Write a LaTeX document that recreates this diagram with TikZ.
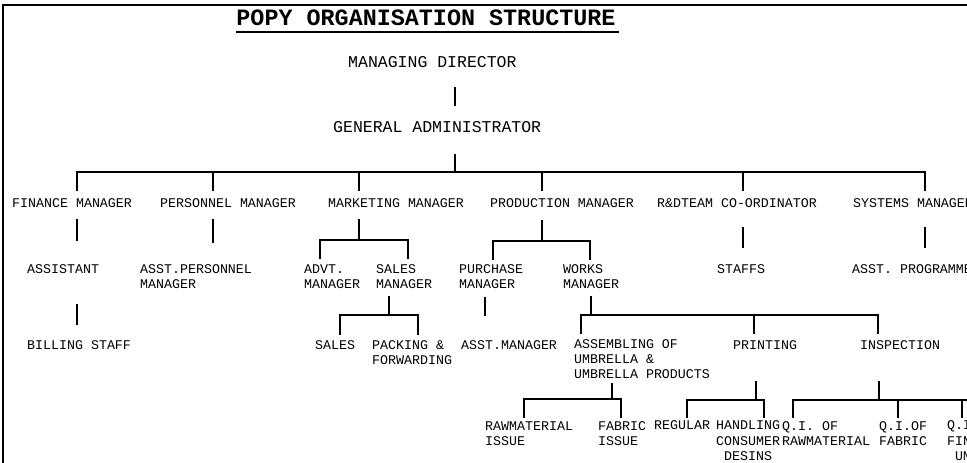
\documentclass[tikz,border=0pt]{standalone}
\usepackage{fontspec}
\newfontfamily\chartfont{Liberation Mono}
\newcommand{\unitfont}{\chartfont\fontsize{13.3}{15}\selectfont}
\newcommand{\headfont}{\chartfont\fontsize{16.5}{18}\selectfont}
\newcommand{\titlefont}{\chartfont\bfseries\fontsize{23.4}{26}\selectfont}

\begin{document}
\begin{tikzpicture}[x=1pt, y=-1pt,
    link/.style={line width=1.3pt, line cap=rect},
    unit/.style={font=\unitfont, inner sep=0pt, anchor=base west, align=left}]
  \useasboundingbox (0,0) rectangle (967,463);
  \clip (0,0) rectangle (967,463);

  % page frame (only top and left edges are seen)
  \draw[line width=1.2pt] (3,463) -- (3,5) -- (967,5);

  % 1. title
  \node[font=\titlefont, inner sep=0pt, anchor=base] (title) at (426,25.7) {POPY ORGANISATION STRUCTURE};
  \draw[line width=1.8pt] ([yshift=-6.3pt]title.base west) -- ([yshift=-6.3pt,xshift=3pt]title.base east);

  % 2. top of the chart
  \node[unit, font=\headfont] (md) at (348,67.5) {MANAGING DIRECTOR};
  \node[unit, font=\headfont] (ga) at (333,132.5) {GENERAL ADMINISTRATOR};

  % note: base of a multi-line node is its last line (+15 per extra line)
  % 3. level 1 (baseline 207.5)
  \node[unit] (fin) at (12,207.5)  {FINANCE MANAGER};
  \node[unit] (per) at (160,207.5) {PERSONNEL MANAGER};
  \node[unit] (mkt) at (328,207.5) {MARKETING MANAGER};
  \node[unit] (prd) at (490,207.5) {PRODUCTION MANAGER};
  \node[unit] (rnd) at (657,207.5) {R\&DTEAM CO-ORDINATOR};
  \node[unit] (sys) at (853,207.5) {SYSTEMS MANAGER};

  % 4. level 2 (baseline 273.5)
  \node[unit] (asst) at (27,273.5)  {ASSISTANT};
  \node[unit] (aper) at (140,288.5) {ASST.PERSONNEL\\MANAGER};
  \node[unit] (advt) at (304,288.5) {ADVT.\\MANAGER};
  \node[unit] (salm) at (376,288.5) {SALES\\MANAGER};
  \node[unit] (pur)  at (459,288.5) {PURCHASE\\MANAGER};
  \node[unit] (wrk)  at (563,288.5) {WORKS\\MANAGER};
  \node[unit] (stf)  at (717,273.5) {STAFFS};
  \node[unit] (prg)  at (852,273.5) {ASST. PROGRAMME};

  % 5. level 3 (baseline 349.5)
  \node[unit] (bill)  at (27,349.5)  {BILLING STAFF};
  \node[unit] (sales) at (315,349.5) {SALES};
  \node[unit] (pack)  at (372,364.5) {PACKING \&\\FORWARDING};
  \node[unit] (amgr)  at (461,349.5) {ASST.MANAGER};
  \node[unit] (asm)   at (574,378.5) {ASSEMBLING OF\\UMBRELLA \&\\UMBRELLA PRODUCTS};
  \node[unit] (prt)   at (733,349.5) {PRINTING};
  \node[unit] (ins)   at (860,349.5) {INSPECTION};

  % 6. level 4 (baseline 429.5)
  \node[unit] (raw) at (485,445) {RAWMATERIAL\\ISSUE};
  \node[unit] (fab) at (598,445) {FABRIC\\ISSUE};
  \node[unit] (reg) at (654,429.5) {REGULAR};
  \node[unit, font=\chartfont\fontsize{13.3}{15.5}\selectfont] (hnd) at (716,460.5) {HANDLING\\CONSUMER\\\hphantom{X}DESINS};
  \node[unit] (qia) at (782,445) {Q.I. OF\\RAWMATERIAL};
  \node[unit] (qib) at (879,445) {Q.I.OF\\FABRIC};
  \node[unit, font=\chartfont\fontsize{13.3}{15.5}\selectfont] (qic) at (947,460.5) {Q.I.\\FIN\\\hphantom{.}UMB};

  % 7. connectors
  % director -> administrator
  \coordinate (md-s) at (455,88);
  \coordinate (ga-n) at (455,105);
  \draw[link] (md-s) -- (ga-n);

  % administrator -> managers
  \coordinate (ga-s) at (455,155);
  \coordinate (ga-b) at (455,172);
  \draw[link] (ga-s) -- (ga-b);
  \foreach \n/\x in {fin/77, per/213, mkt/359, prd/542, rnd/743, sys/925}
    \coordinate (\n-t) at (\x,190);
  \draw[link] (fin-t) |- (ga-b) -| (sys-t);
  \foreach \n in {per, mkt, prd, rnd}
    \draw[link] (\n-t) -- (\n-t |- ga-b);

  % single lines under managers
  \foreach \n/\x/\ya/\yb in {fin/77/220/240, per/213/220/242, rnd/743/228/247,
                            sys/925/228/247, asst/77/305/324, pur/485/298/315} {
    \coordinate (\n-s) at (\x,\ya);
    \coordinate (\n-e) at (\x,\yb);
    \draw[link] (\n-s) -- (\n-e);
  }

  % marketing
  \coordinate (mkt-s) at (359,220);
  \coordinate (mkt-b) at (359,240);
  \coordinate (advt-t) at (320,258);
  \coordinate (salm-t) at (408,258);
  \draw[link] (mkt-s) -- (mkt-b);
  \draw[link] (advt-t) |- (mkt-b) -| (salm-t);

  % production
  \coordinate (prd-s) at (542,221);
  \coordinate (prd-b) at (542,241);
  \coordinate (pur-t) at (493,259);
  \coordinate (wrk-t) at (590,259);
  \draw[link] (prd-s) -- (prd-b);
  \draw[link] (pur-t) |- (prd-b) -| (wrk-t);

  % sales manager
  \coordinate (salm-s) at (389,297);
  \coordinate (salm-b) at (389,315);
  \coordinate (sales-t) at (340,334);
  \coordinate (pack-t) at (418,334);
  \draw[link] (salm-s) -- (salm-b);
  \draw[link] (sales-t) |- (salm-b) -| (pack-t);

  % works manager
  \coordinate (wrk-s) at (591,297);
  \coordinate (wrk-b) at (591,315);
  \coordinate (asm-t) at (581,333);
  \coordinate (prt-t) at (754,333);
  \coordinate (ins-t) at (878,333);
  \draw[link] (wrk-s) -- (wrk-b);
  \draw[link] (asm-t) |- (wrk-b) -| (ins-t);
  \draw[link] (prt-t) -- (prt-t |- wrk-b);

  % assembling
  \coordinate (asm-s) at (612,384);
  \coordinate (asm-b) at (612,399);
  \coordinate (raw-t) at (524,417);
  \coordinate (fab-t) at (621,417);
  \draw[link] (asm-s) -- (asm-b);
  \draw[link] (raw-t) |- (asm-b) -| (fab-t);

  % printing
  \coordinate (prt-s) at (756,382);
  \coordinate (prt-b) at (756,400);
  \coordinate (reg-t) at (687,417);
  \coordinate (hnd-t) at (764,417);
  \draw[link] (prt-s) -- (prt-b);
  \draw[link] (reg-t) |- (prt-b) -| (hnd-t);

  % inspection
  \coordinate (ins-s) at (879,382);
  \coordinate (ins-b) at (879,400);
  \coordinate (qia-t) at (793,417);
  \coordinate (qib-t) at (898,417);
  \coordinate (qic-t) at (962,417);
  \coordinate (ins-r) at (975,400);
  \draw[link] (ins-s) -- (ins-b);
  \draw[link] (qia-t) |- (ins-b) -- (ins-r);
  \foreach \n in {qib, qic}
    \draw[link] (\n-t) -- (\n-t |- ins-b);

\end{tikzpicture}
\end{document}
